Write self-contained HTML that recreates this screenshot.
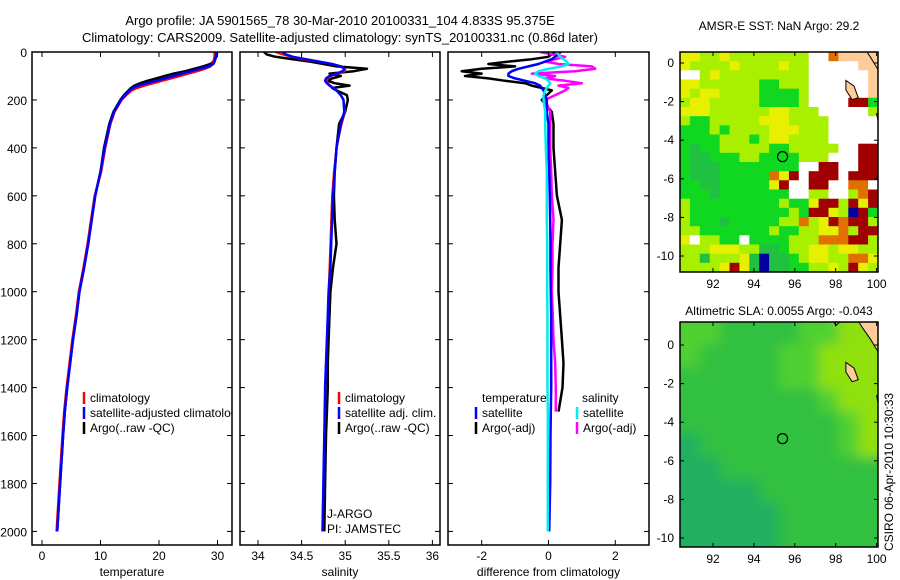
<!DOCTYPE html>
<html><head><meta charset="utf-8"><style>
html,body{margin:0;padding:0;background:#fff;}
svg{display:block;font-family:"Liberation Sans",sans-serif;}
</style></head><body>
<svg id="fig" width="900" height="580" viewBox="0 0 900 580" xmlns="http://www.w3.org/2000/svg">
<text x="340" y="25" font-size="13" text-anchor="middle">Argo profile: JA 5901565_78 30-Mar-2010 20100331_104 4.833S 95.375E</text>
<text x="340" y="42" font-size="13" text-anchor="middle">Climatology: CARS2009. Satellite-adjusted climatology: synTS_20100331.nc (0.86d later)</text>
<text x="779" y="30" font-size="12" text-anchor="middle">AMSR-E SST: NaN Argo: 29.2</text>
<text x="779" y="315" font-size="12" text-anchor="middle">Altimetric SLA: 0.0055 Argo: -0.043</text>
<text transform="translate(893,472) rotate(-90)" font-size="12" text-anchor="middle">CSIRO 06-Apr-2010 10:30:33</text>
<g id="g"></g>
</svg>
<script>
const depth=[0,10,20,30,40,50,60,70,80,90,100,110,120,130,140,150,160,180,200,250,300,400,500,600,700,800,900,1000,1100,1200,1300,1400,1500,1600,1800,2000];
const tClim=[29.5,29.5,29.5,29.4,29.3,29.1,28.8,27.8,26.5,25,23.5,22,20.5,19,17.5,16.2,15.3,14.4,13.6,12.4,11.7,10.8,10.1,9.0,8.4,7.8,7.1,6.3,5.8,5.2,4.7,4.2,3.8,3.5,3.0,2.5];
const tSat=[29.8,29.8,29.7,29.6,29.5,29.3,28.5,27,25.5,24,22.5,21,19.5,18,16.5,15.5,15,14.2,13.5,12.3,11.6,10.7,10,9.1,8.5,7.9,7.2,6.4,5.9,5.3,4.8,4.3,3.9,3.6,3.1,2.6];
const tArgo=[29.9,29.9,29.8,29.6,29.3,28.8,27.5,26,24.5,22.5,21,19.5,18,16.8,15.8,15.2,14.8,14.0,13.4,12.2,11.5,10.6,10.0,9.1,8.5,7.9,7.2,6.4,5.9,5.3,4.8,4.3,3.9,3.6,3.1,2.6];
const sClim=[34.2,34.28,34.38,34.5,34.68,34.85,34.96,35.0,35.0,34.92,34.84,34.8,34.79,34.8,34.83,34.87,34.9,34.95,34.98,35.0,34.96,34.9,34.87,34.85,34.84,34.83,34.82,34.81,34.8,34.79,34.78,34.77,34.76,34.76,34.75,34.74];
const sSat=[34.28,34.32,34.4,34.55,34.7,34.85,34.95,34.99,34.97,34.9,34.82,34.78,34.77,34.79,34.82,34.86,34.9,34.95,34.98,34.99,34.95,34.9,34.88,34.86,34.85,34.84,34.83,34.81,34.8,34.79,34.78,34.77,34.77,34.76,34.75,34.74];
const sArgo=[34.07,34.1,34.2,34.4,34.6,34.75,34.9,35.25,35.1,34.82,34.95,34.85,34.8,34.88,35.05,34.85,34.9,35.02,35.03,35.0,34.93,34.9,34.88,34.87,34.88,34.9,34.86,34.83,34.82,34.81,34.8,34.8,34.79,34.78,34.77,34.76];
const dTsat=[0.36,0.3,0.2,0.1,-0.1,-0.3,-0.6,-0.9,-1.1,-1.2,-1.2,-1.0,-0.7,-0.4,-0.25,-0.2,-0.15,-0.1,-0.05,-0.05,0,0,0.02,0.04,0.05,0.06,0.06,0.07,0.08,0.08,0.08,0.08,0.07,0.06,0.05,0.02];
const dTargo=[0.2,0.1,0,-0.5,-1.2,-1.8,-1.0,-2.0,-2.6,-2.0,-2.5,-1.8,-1.3,-0.7,-0.5,-0.2,0.1,-0.05,-0.2,0.1,0.15,0.15,0.2,0.25,0.4,0.35,0.3,0.3,0.35,0.4,0.45,0.42,0.3,null,null,null];
const dSsat=[0.25,0.3,0.35,0.45,0.55,0.6,0.4,0.0,-0.3,-0.4,-0.3,-0.1,0,0.05,0,-0.05,-0.1,-0.15,-0.15,-0.1,-0.1,-0.08,-0.05,-0.05,-0.05,-0.04,-0.04,-0.04,-0.03,-0.03,-0.03,-0.03,-0.02,-0.02,-0.02,-0.02];
const dSargo=[-0.25,0.1,0.5,0.2,-0.1,0.3,1.3,1.4,0.8,-0.5,0.2,-0.1,0.5,1.0,0.3,0.6,0.5,0.2,-0.1,0.05,0.05,0.05,0.08,0.1,0.15,0.12,0.12,0.1,0.13,0.15,0.2,0.22,0.22,null,null,null];
const depthTicks=[0,200,400,600,800,1000,1200,1400,1600,1800,2000];
const tTicks=[0,10,20,30];
const sTicks=[34,34.5,35,35.5,36];
const sTickLabels=["34","34.5","35","35.5","36"];
const dTicks=[-2,0,2];
const lonTicks=[92,94,96,98,100];
const latTicks=[0,-2,-4,-6,-8,-10];
const sstGrid=[
"YYllYllllllllwwoLLLL",
"YllllYllllYllwwwwwLL",
"wwlYlllllllllwwwwwwL",
"YYllllllgglllwwwwwwL",
"YlYYllllgggglwwwwwwL",
"lYYlllllgggglwwwwrrg",
"YYYllllllYYlllwwwwwl",
"lgglllllYYYllllwwwww",
"ggglgllllYYYlllwwwww",
"gggglllglYYllllwwwww",
"gGgglllllgglllllwwrr",
"gGGgggllgggglllwwwrr",
"gGGGggggggggwwrrwwrr",
"gGGGgggggoYrwrrrwrrr",
"ggGGgggggYrwwrrwwoow",
"gggGgggggggwwllwwlor",
"lggggggggglggYrrlrYr",
"lgggggggggglgrrYlbrg",
"lgggGgggggllolYrorrl",
"llggggggglggllYYolrr",
"Ywllggwgggglllooorrl",
"lllYYYllGGgllYYlYYll",
"llGlllYGbGGglYYllooY",
"llllYrYGbGGggllYlrYl"];
const slaGrid=[
"aabbbbaacc",
"abbbbaaccc",
"bbbbbaaccc",
"bbbbbbbacc",
"bbbbbbbbac",
"dbbbbbbbac",
"ddbbbbbbbb",
"ddddbbbbbb",
"dddddbbbbb",
"dddddbbbbb"];
const argoLon=95.4, argoLat=-4.85;

const NS="http://www.w3.org/2000/svg";
const G=document.getElementById('g');
function mk(tag,attrs,parent){const e=document.createElementNS(NS,tag);for(const k in attrs)e.setAttribute(k,attrs[k]);(parent||G).appendChild(e);return e;}
const yTop=52,yBot=545;
const yD=d=>52+d*0.2397;
function xScale(x0,v0,ppu){return v=>x0+(v-v0)*ppu;}
const panels=[
 {l:32,r:232,xs:xScale(42,0,5.85),ticks:tTicks,labels:tTicks.map(String),title:"temperature",name:"temperature-panel"},
 {l:240,r:440,xs:xScale(258,34,87.2),ticks:sTicks,labels:sTickLabels,title:"salinity",name:"salinity-panel"},
 {l:448,r:649,xs:xScale(548.5,0,33.4),ticks:dTicks,labels:dTicks.map(String),title:"difference from climatology",name:"difference-panel"}];
function line(p,vals,color,w,name){
  let pts=[];let segs=[];
  for(let i=0;i<depth.length;i++){if(vals[i]==null){if(pts.length)segs.push(pts);pts=[];continue;}pts.push(p.xs(vals[i]).toFixed(1)+","+yD(depth[i]).toFixed(1));}
  if(pts.length)segs.push(pts);
  segs.forEach(s=>{const e=mk('polyline',{points:s.join(' '),fill:'none',stroke:color,'stroke-width':w,'stroke-linejoin':'round'},p.g);
  
  });
}
panels.forEach((p,pi)=>{
  p.g=mk('g',{});
  
  
  const cp=mk('clipPath',{id:'cp'+pi});mk('rect',{x:p.l,y:yTop,width:p.r-p.l,height:yBot-yTop},cp);
  p.g.setAttribute('clip-path','url(#cp'+pi+')');
  mk('rect',{x:p.l,y:yTop,width:p.r-p.l,height:yBot-yTop,fill:'#fff'},p.g);
});
line(panels[0],tArgo,'#000',2.5,'temp-argo-line');
line(panels[0],tClim,'#f00',2.5,'temp-climatology-line');
line(panels[0],tSat,'#00f',2.5,'temp-satellite-line');
line(panels[1],sArgo,'#000',2.5,'sal-argo-line');
line(panels[1],sClim,'#f00',2,'sal-climatology-line');
line(panels[1],sSat,'#00f',2.5,'sal-satellite-line');
line(panels[2],dTargo,'#000',2.5,'diff-temp-argo-line');
line(panels[2],dSargo,'#f0f',2.5,'diff-sal-argo-line');
line(panels[2],dTsat,'#00f',2.5,'diff-temp-satellite-line');
line(panels[2],dSsat,'#0ee',2.5,'diff-sal-satellite-line');
function leg(p,x,y,color,txt,name){
  if(color){const l=mk('line',{x1:x,x2:x,y1:y-10,y2:y+2,stroke:color,'stroke-width':2.5},p.g);
  
  }
  const t=mk('text',{x:x+6,y:y,'font-size':12},p.g);t.textContent=txt;
  
  
}
leg(panels[0],84,402,'#f00','climatology','legend-climatology');
leg(panels[0],84,417,'#00f','satellite-adjusted climatology','legend-satellite-adjusted');
leg(panels[0],84,432,'#000','Argo(..raw -QC)','legend-argo-raw');
leg(panels[1],339,402,'#f00','climatology','legend-sal-climatology');
leg(panels[1],339,417,'#00f','satellite adj. clim.','legend-sal-satellite');
leg(panels[1],339,432,'#000','Argo(..raw -QC)','legend-sal-argo');
leg(panels[1],321,518,null,'J-ARGO','j-argo-label');
leg(panels[1],321,533,null,'PI: JAMSTEC','pi-label');
leg(panels[2],476,402,null,'temperature','legend-temperature-header');
leg(panels[2],576,402,null,'salinity','legend-salinity-header');
leg(panels[2],476,417,'#00f','satellite','legend-temp-satellite');
leg(panels[2],476,432,'#000','Argo(-adj)','legend-temp-argo');
leg(panels[2],577,417,'#0ee','satellite','legend-sal-satellite-diff');
leg(panels[2],577,432,'#f0f','Argo(-adj)','legend-sal-argo-diff');
panels.forEach((p,pi)=>{
  const ax=mk('g',{});
  
  
  mk('rect',{x:p.l,y:yTop,width:p.r-p.l,height:yBot-yTop,fill:'none',stroke:'#000','stroke-width':1.5},ax);
  p.ticks.forEach((v,i)=>{const x=p.xs(v);
    mk('line',{x1:x,x2:x,y1:yBot,y2:yBot-5,stroke:'#000'},ax);
    mk('line',{x1:x,x2:x,y1:yTop,y2:yTop+5,stroke:'#000'},ax);
    const t=mk('text',{x:x,y:yBot+15,'font-size':12,'text-anchor':'middle'},ax);t.textContent=p.labels[i];
    
    });
  depthTicks.forEach(d=>{const y=yD(d);
    mk('line',{x1:p.l,x2:p.l+5,y1:y,y2:y,stroke:'#000'},ax);
    mk('line',{x1:p.r,x2:p.r-5,y1:y,y2:y,stroke:'#000'},ax);
    if(pi===0){const t=mk('text',{x:27,y:y+5,'font-size':12,'text-anchor':'end'},ax);t.textContent=d;
    
    }});
  const tt=mk('text',{x:(p.l+p.r)/2,y:576,'font-size':12,'text-anchor':'middle'},ax);tt.textContent=p.title;
  
  
});
const sstCol={Y:'#e6f000',l:'#a8f000',g:'#10d820',G:'#20c040',r:'#a00000',o:'#e07000',w:'#ffffff',L:'#ffcc99',b:'#0000a0'};
const slaCol={a:'#50d030',b:'#30c040',c:'#90e010',d:'#20b060'};
function map(y0,y1,lat0y,grid,cols,name,blur){
  const L=680,R=878;
  const lx=lon=>713+(lon-92)*20.45;
  const ly=lat=>lat0y-lat*19.3;
  const g=mk('g',{});
  
  
  const cp=mk('clipPath',{id:'cp'+name});mk('rect',{x:L,y:y0,width:R-L,height:y1-y0},cp);
  const inner=mk('g',{'clip-path':'url(#cp'+name+')'},g);
  const cg=mk('g',blur?{filter:'url(#bl)'}:{},inner);
  const nr=grid.length,nc=grid[0].length,cw=(R-L)/nc,ch=(y1-y0)/nr;
  const pad=blur?25:0;
  grid.forEach((row,r)=>{for(let c=0;c<nc;c++){
    let x=L+c*cw,y=y0+r*ch,w=cw+0.6,h=ch+0.6;
    if(c===0){x-=pad;w+=pad;} if(c===nc-1){w+=pad;}
    if(r===0){y-=pad;h+=pad;} if(r===nr-1){h+=pad;}
    const e=mk('rect',{x:x.toFixed(1),y:y.toFixed(1),width:w.toFixed(1),height:h.toFixed(1),fill:cols[row[c]]},cg);
    
    }});
  const polys=[[[98.9,1.6],[99.3,0.9],[99.7,0.3],[100.1,-0.4],[100.5,-0.9],[100.6,1.6]],
    [[97.8,1.6],[98.3,1.3],[98.0,1.0]],
    [[98.5,-0.9],[98.9,-1.2],[99.1,-1.8],[98.8,-1.9],[98.5,-1.4]],
    [[100.0,-2.6],[100.3,-3.0],[100.4,-3.5],[100.1,-3.2]]];
  polys.forEach(pl=>{const e=mk('polygon',{points:pl.map(q=>lx(q[0]).toFixed(1)+','+ly(q[1]).toFixed(1)).join(' '),fill:'#ffcc99',stroke:'#000','stroke-width':1},inner);
    
    });
  const m=mk('circle',{cx:lx(argoLon),cy:ly(argoLat),r:5,fill:'none',stroke:'#000','stroke-width':1.2},g);
  
  
  mk('rect',{x:L,y:y0,width:R-L,height:y1-y0,fill:'none',stroke:'#000','stroke-width':1.5},g);
  lonTicks.forEach(v=>{const x=lx(v);mk('line',{x1:x,x2:x,y1:y1,y2:y1-4,stroke:'#000'},g);mk('line',{x1:x,x2:x,y1:y0,y2:y0+4,stroke:'#000'},g);
    const t=mk('text',{x:x,y:y1+16,'font-size':12,'text-anchor':'middle'},g);t.textContent=v;
    
    });
  latTicks.forEach(v=>{const y=ly(v);mk('line',{x1:L,x2:L+4,y1:y,y2:y,stroke:'#000'},g);mk('line',{x1:R,x2:R-4,y1:y,y2:y,stroke:'#000'},g);
    const t=mk('text',{x:L-6,y:y+4,'font-size':12,'text-anchor':'end'},g);t.textContent=v;
    
    });
}
const defs=mk('defs',{});const flt=mk('filter',{id:'bl',x:'-20%',y:'-20%',width:'140%',height:'140%'},defs);mk('feGaussianBlur',{stdDeviation:6},flt);
map(52,272,63,sstGrid,sstCol,'sst-map',false);
map(322,547,345,slaGrid,slaCol,'sla-map',true);
</script>
</body></html>
